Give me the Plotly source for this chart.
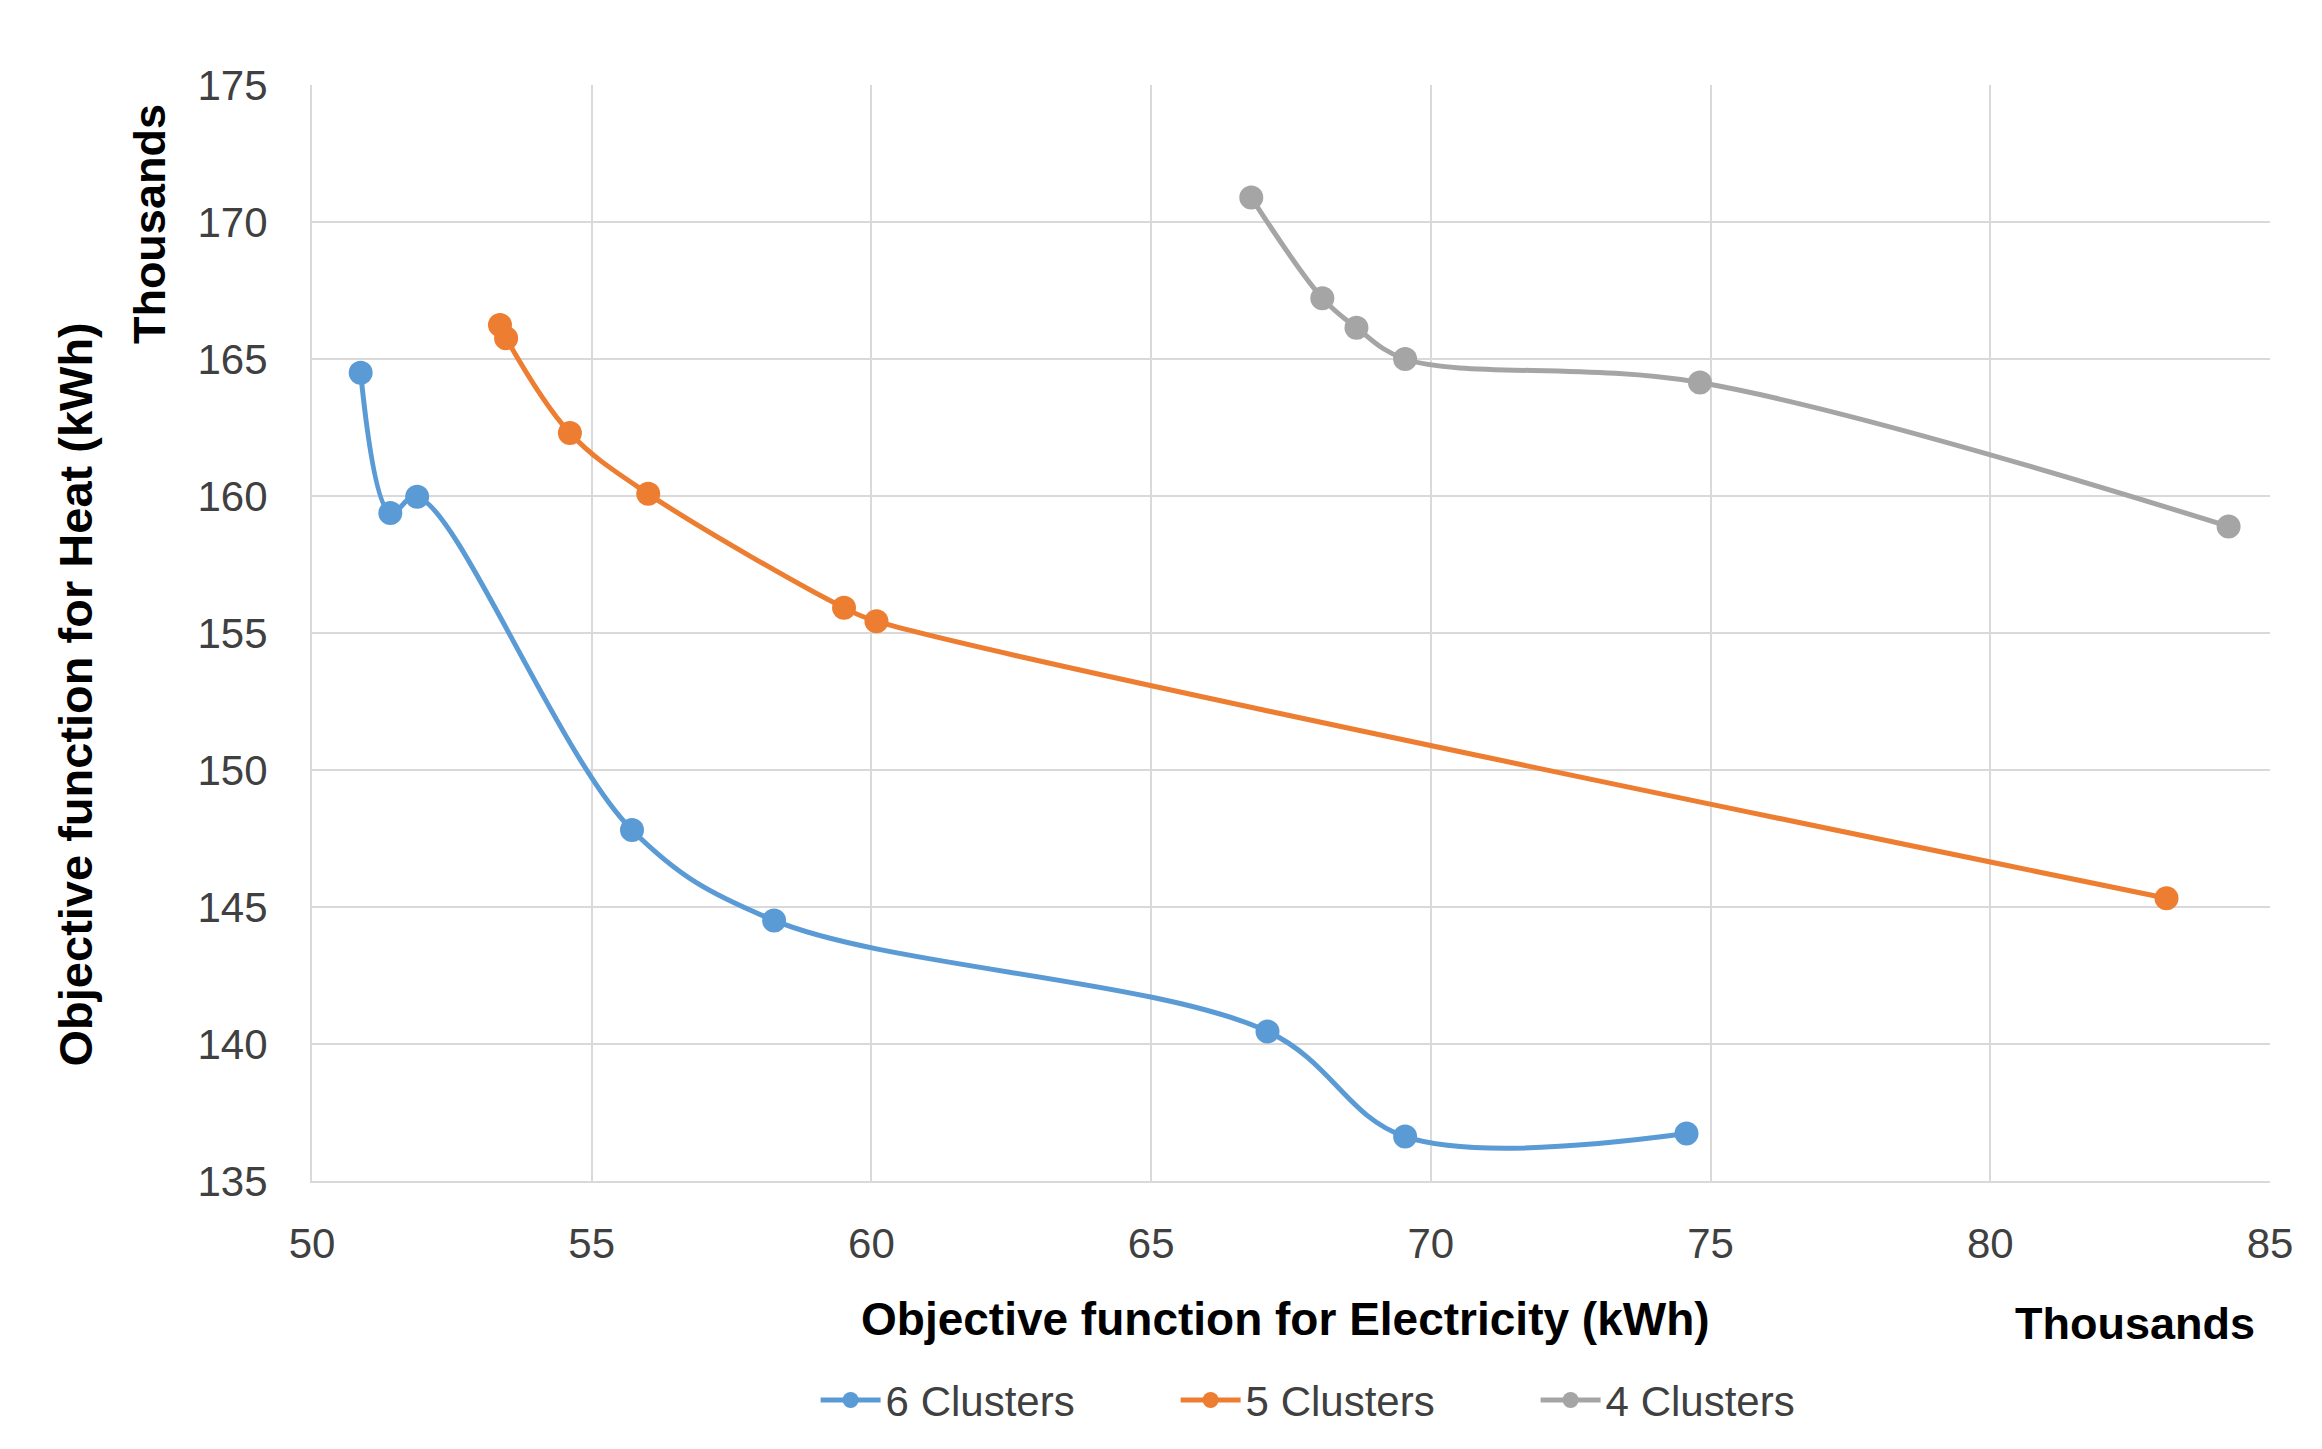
import plotly.graph_objects as go

# Data (x and y in thousands of kWh)
x6 = [50.87, 51.40, 51.88, 55.72, 58.26, 67.08, 69.54, 74.57]
y6 = [164.5, 159.38, 159.97, 147.81, 144.51, 140.46, 136.62, 136.73]

x5 = [53.36, 53.47, 54.61, 56.01, 59.51, 60.09, 83.15]
y5 = [166.24, 165.76, 162.30, 160.08, 155.92, 155.43, 145.32]

x4 = [66.79, 68.06, 68.67, 69.54, 74.81, 84.26]
y4 = [170.89, 167.22, 166.14, 165.0, 164.14, 158.89]

names = ["6 Clusters", "5 Clusters", "4 Clusters"]
colors = ["#5B9BD5", "#ED7D31", "#A5A5A5"]

FONT = "Liberation Sans"
fig = go.Figure()
for xs, ys, nm, c in [(x6, y6, names[0], colors[0]), (x5, y5, names[1], colors[1]), (x4, y4, names[2], colors[2])]:
    fig.add_trace(go.Scatter(
        x=xs, y=ys, name=nm, mode="lines+markers",
        line=dict(color=c, width=5, shape="spline", smoothing=1.0),
        marker=dict(color=c, size=24, symbol="circle"),
    ))

W, H = 2322, 1449
L, R, T, B = 304, 60, 77, 276
fig.update_layout(
    width=W, height=H,
    margin=dict(l=L, r=R, t=T, b=B),
    paper_bgcolor="white", plot_bgcolor="white",
    font=dict(family=FONT, size=42, color="#404040"),
    showlegend=True,
    legend=dict(orientation="h", x=0.533, xanchor="center", y=-0.2, yanchor="middle",
                font=dict(family=FONT, size=42, color="#404040"), itemwidth=60,
                entrywidth=285, tracegroupgap=0),
    xaxis=dict(range=[50, 85], dtick=5, tick0=50, showgrid=True, gridcolor="#D9D9D9", gridwidth=2,
               zeroline=False, showline=True, linecolor="#D9D9D9", linewidth=2, mirror=False,
               ticks="", ticklabelstandoff=25, tickfont=dict(family=FONT, size=42, color="#404040")),
    yaxis=dict(range=[135, 175], dtick=5, tick0=135, showgrid=True, gridcolor="#D9D9D9", gridwidth=2,
               zeroline=False, showline=True, linecolor="#D9D9D9", linewidth=2,
               ticks="", ticklabelstandoff=34, tickfont=dict(family=FONT, size=42, color="#404040")),
)

fig.add_annotation(text="<b>Objective function for Electricity (kWh)</b>", xref="paper", yref="paper",
                   x=0.497, y=-0.126, showarrow=False, xanchor="center", yanchor="middle",
                   font=dict(family=FONT, size=46, color="#000000"))
fig.add_annotation(text="<b>Thousands</b>", xref="paper", yref="paper",
                   x=0.931, y=-0.130, showarrow=False, xanchor="center", yanchor="middle",
                   font=dict(family=FONT, size=45, color="#000000"))
fig.add_annotation(text="<b>Objective function for Heat (kWh)</b>", xref="paper", yref="paper",
                   x=-0.121, y=0.444, showarrow=False, xanchor="center", yanchor="middle", textangle=-90,
                   font=dict(family=FONT, size=47, color="#000000"))
fig.add_annotation(text="<b>Thousands</b>", xref="paper", yref="paper",
                   x=-0.0833, y=0.873, showarrow=False, xanchor="center", yanchor="middle", textangle=-90,
                   font=dict(family=FONT, size=45, color="#000000"))

fig.write_html("out.html")
